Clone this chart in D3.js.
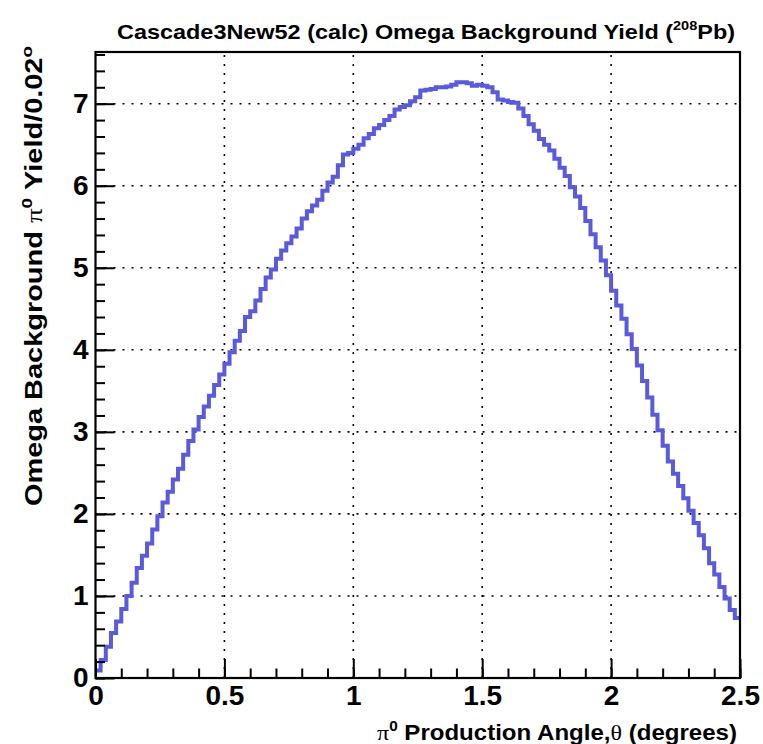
<!DOCTYPE html>
<html>
<head>
<meta charset="utf-8">
<script src="https://cdn.jsdelivr.net/npm/d3@7"></script>
<style>
  body { margin: 0; background: #fff; }
  text { font-family: "Liberation Sans", Arial, sans-serif; font-weight: bold; }
</style>
</head>
<body>
<div id="chart"></div>
<script>
// bin width in degrees, 125 bins from 0 to 2.5
const binWidth = 0.02;
const xMajorTicks = [0, 0.5, 1, 1.5, 2, 2.5];
const xTickLabels = ['0', '0.5', '1', '1.5', '2', '2.5'];
const yMajorTicks = [0, 1, 2, 3, 4, 5, 6, 7];
const yTickLabels = ['0', '1', '2', '3', '4', '5', '6', '7'];

// Omega background yield per bin
const yields = [
  0.09, 0.22, 0.38, 0.55, 0.69, 0.84, 1.00, 1.16, 1.34, 1.49,
  1.64, 1.81, 1.97, 2.14, 2.27, 2.42, 2.55, 2.72, 2.89, 3.03,
  3.18, 3.31, 3.44, 3.57, 3.70, 3.83, 3.97, 4.11, 4.23, 4.40,
  4.47, 4.60, 4.74, 4.88, 4.98, 5.11, 5.21, 5.30, 5.38, 5.48,
  5.60, 5.69, 5.76, 5.83, 5.94, 6.04, 6.11, 6.25, 6.38, 6.40,
  6.45, 6.50, 6.58, 6.63, 6.70, 6.74, 6.80, 6.85, 6.93, 6.96,
  6.98, 7.03, 7.08, 7.16, 7.17, 7.18, 7.20, 7.20, 7.21, 7.23,
  7.26, 7.26, 7.25, 7.22, 7.23, 7.22, 7.20, 7.14, 7.05, 7.04,
  7.02, 7.01, 6.94, 6.85, 6.75, 6.67, 6.57, 6.50, 6.43, 6.33,
  6.22, 6.12, 5.98, 5.87, 5.73, 5.57, 5.41, 5.25, 5.09, 4.91,
  4.72, 4.54, 4.38, 4.19, 4.01, 3.81, 3.62, 3.42, 3.21, 3.02,
  2.83, 2.64, 2.49, 2.34, 2.19, 2.04, 1.89, 1.74, 1.58, 1.40,
  1.26, 1.11, 0.97, 0.83, 0.73
];

const W = 763, H = 744;
const frame = { left: 95.5, right: 740, top: 52, bottom: 678 };

const x = d3.scaleLinear().domain([0, 2.5]).range([frame.left, frame.right]);
const y = d3.scaleLinear().domain([0, 7.63]).range([frame.bottom, frame.top]);

const svg = d3.select('#chart').append('svg')
  .attr('width', W).attr('height', H);

// dotted grid
const grid = svg.append('g').attr('stroke', '#000').attr('stroke-width', 1.6)
  .attr('stroke-dasharray', '2,7');
grid.selectAll('line.gx').data(xMajorTicks.slice(1, -1)).enter().append('line')
  .attr('x1', d => x(d)).attr('x2', d => x(d))
  .attr('y1', frame.bottom).attr('y2', frame.top);
grid.selectAll('line.gy').data(yMajorTicks.slice(1)).enter().append('line')
  .attr('x1', frame.left).attr('x2', frame.right)
  .attr('y1', d => y(d)).attr('y2', d => y(d));

// histogram as a step line
const pts = yields.map((v, i) => [i * binWidth, v]);
pts.push([yields.length * binWidth, yields[yields.length - 1]]);
const line = d3.line().x(d => x(d[0])).y(d => y(d[1])).curve(d3.curveStepAfter);
svg.append('path').datum(pts)
  .attr('d', line)
  .attr('fill', 'none')
  .attr('stroke', '#5a5adc')
  .attr('stroke-width', 4);

// axes (ticks point inward like ROOT)
const xMinor = d3.range(0, 2.5001, 0.1);
const yMinor = d3.range(0, 7.61, 0.2);

svg.append('g').attr('transform', `translate(0,${frame.bottom})`)
  .call(d3.axisBottom(x).tickValues(xMinor).tickSize(-9.5).tickSizeOuter(0).tickFormat(''))
  .call(g => g.select('.domain').remove());
svg.append('g').attr('transform', `translate(${frame.left},0)`)
  .call(d3.axisLeft(y).tickValues(yMinor).tickSize(-9.5).tickSizeOuter(0).tickFormat(''))
  .call(g => g.select('.domain').remove());

const xAxis = svg.append('g').attr('transform', `translate(0,${frame.bottom})`)
  .call(d3.axisBottom(x).tickValues(xMajorTicks).tickSize(-19).tickSizeOuter(0)
    .tickPadding(7).tickFormat((d, i) => xTickLabels[i]));
xAxis.select('.domain').remove();
xAxis.selectAll('text').attr('font-size', 28).attr('fill', '#000')
  .attr('font-family', '"Liberation Sans", Arial, sans-serif');

const yAxis = svg.append('g').attr('transform', `translate(${frame.left},0)`)
  .call(d3.axisLeft(y).tickValues(yMajorTicks).tickSize(-19).tickSizeOuter(0)
    .tickPadding(7).tickFormat((d, i) => yTickLabels[i]));
yAxis.select('.domain').remove();
yAxis.selectAll('text').attr('font-size', 28).attr('fill', '#000')
  .attr('font-family', '"Liberation Sans", Arial, sans-serif');

svg.selectAll('.tick line').attr('stroke', '#000').attr('stroke-width', 2);

// frame
svg.append('rect')
  .attr('x', frame.left).attr('y', frame.top)
  .attr('width', frame.right - frame.left).attr('height', frame.bottom - frame.top)
  .attr('fill', 'none').attr('stroke', '#000').attr('stroke-width', 2.2);

// title
const title = svg.append('text')
  .attr('x', 117).attr('y', 39).attr('font-size', 21)
  .attr('textLength', 618).attr('lengthAdjust', 'spacingAndGlyphs');
title.append('tspan').text('Cascade3New52 (calc) Omega Background Yield (');
title.append('tspan').attr('font-size', 13).attr('dy', -9).text('208');
title.append('tspan').attr('dy', 9).text('Pb)');

// x title
const xt = svg.append('text')
  .attr('x', 737).attr('y', 740).attr('text-anchor', 'end').attr('font-size', 22)
  .attr('textLength', 360).attr('lengthAdjust', 'spacingAndGlyphs');
xt.append('tspan').attr('font-family', '"Liberation Serif", serif').attr('font-weight', 'normal').text('\u03c0');
xt.append('tspan').attr('font-size', 14).attr('dy', -9).text('0');
xt.append('tspan').attr('dy', 9).text(' Production Angle,');
xt.append('tspan').attr('font-family', '"Liberation Serif", serif').attr('font-weight', 'normal').text('\u03b8');
xt.append('tspan').text(' (degrees)');

// y title
const yt = svg.append('text')
  .attr('transform', 'translate(42,506) rotate(-90)')
  .attr('font-size', 23)
  .attr('textLength', 460).attr('lengthAdjust', 'spacingAndGlyphs');
yt.append('tspan').text('Omega Background ');
yt.append('tspan').attr('font-family', '"Liberation Serif", serif').attr('font-weight', 'normal').text('\u03c0');
yt.append('tspan').attr('font-size', 15).attr('dy', -10).text('0');
yt.append('tspan').attr('dy', 10).text(' Yield/0.02');
yt.append('tspan').attr('font-size', 15).attr('dy', -10).text('o');
</script>
</body>
</html>
